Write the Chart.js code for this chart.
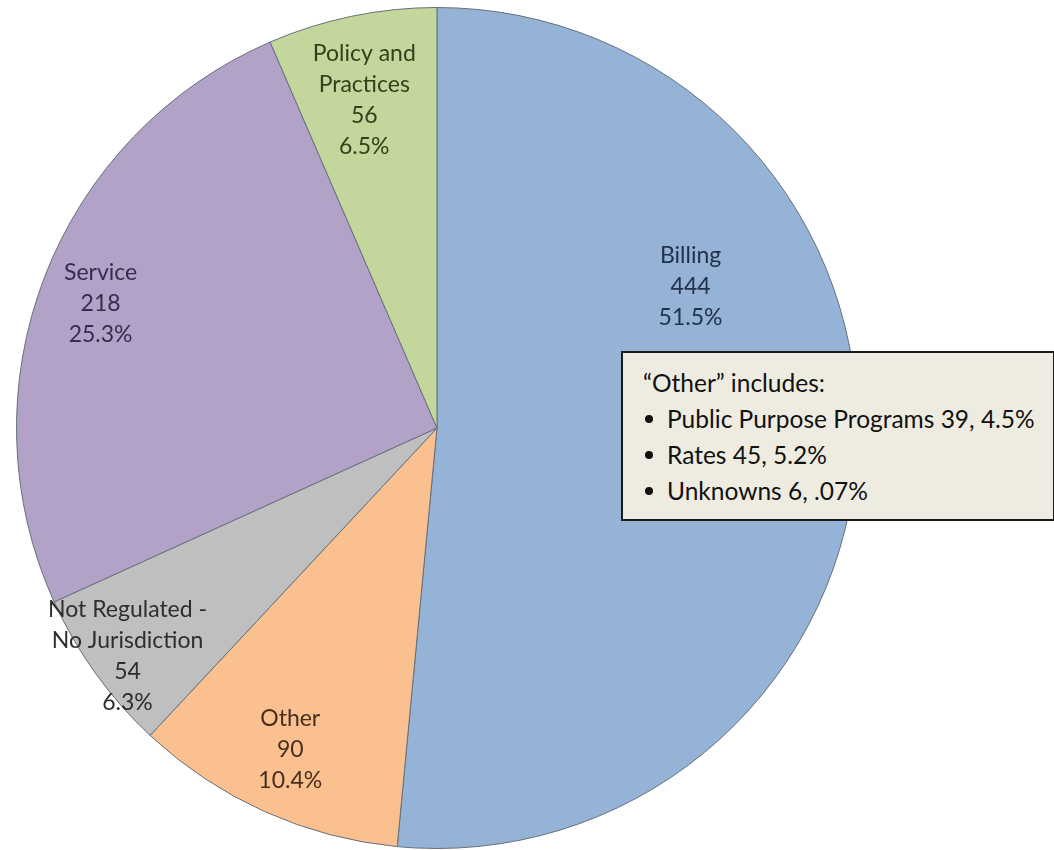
<!DOCTYPE html>
<html>
<head>
<meta charset="utf-8">
<script src="https://cdn.jsdelivr.net/npm/chart.js@4/dist/chart.umd.min.js"></script>
<style>
  html, body { margin: 0; padding: 0; background: #fff; }
  #wrap { position: relative; width: 1054px; height: 850px; overflow: hidden; }
  #note {
    position: absolute; left: 621px; top: 351px; width: 430px; height: 166px;
    background: #eeece1; border: 2px solid #1a1a1a;
    font-family: Lato, "Open Sans", sans-serif; font-size: 24.5px; color: #111;
  }
  #note p { margin: 0; position: absolute; left: 20px; top: 15px; line-height: 30px; }
  #note ul { margin: 0; padding: 0; list-style: none; position: absolute; left: 22px; top: 48px; }
  #note li { height: 36px; line-height: 36px; position: relative; padding-left: 22px; white-space: nowrap; }
  #note li::before { content: ""; position: absolute; left: 0; top: 14px; width: 8px; height: 8px; border-radius: 50%; background: #111; }
</style>
</head>
<body>
<div id="wrap">
  <canvas id="pie" width="1054" height="850"></canvas>
  <div id="note">
    <p id="noteTitle"></p>
    <ul id="noteList"></ul>
  </div>
</div>
<script>
// data
const categories = ['Billing', 'Other', 'Not Regulated - No Jurisdiction', 'Service', 'Policy and Practices'];
const nameLines = [['Billing'], ['Other'], ['Not Regulated -', 'No Jurisdiction'], ['Service'], ['Policy and', 'Practices']];
const counts = [444, 90, 54, 218, 56];
const percentLabels = ['51.5%', '10.4%', '6.3%', '25.3%', '6.5%'];
const otherTitle = '\u201COther\u201D includes:';
const otherItems = ['Public Purpose Programs 39, 4.5%', 'Rates 45, 5.2%', 'Unknowns 6, .07%'];

// styles
const sliceColors = ['#95b3d7', '#fac090', '#bfbfbf', '#b3a2c7', '#c3d69b'];
const textColors = ['#22324b', '#472f1e', '#2e2e2e', '#382b4f', '#33401c'];
// label spot relative to pie centre, in radius units (Excel labels were moved by hand)
const labelPos = [[0.603, -0.337], [-0.349, 0.765], [-0.736, 0.542], [-0.800, -0.297], [-0.173, -0.779]];

// the "Other" box
document.getElementById('noteTitle').textContent = otherTitle;
const list = document.getElementById('noteList');
otherItems.forEach(t => {
  const li = document.createElement('li');
  li.textContent = t;
  list.appendChild(li);
});

// draws name / count / percent inside each slice
const sliceLabels = {
  id: 'sliceLabels',
  afterDatasetsDraw(chart) {
    const ctx = chart.ctx;
    const arcs = chart.getDatasetMeta(0).data;
    const cx = arcs[0].x, cy = arcs[0].y, r = arcs[0].outerRadius;
    ctx.save();
    ctx.font = '23px Lato, "Open Sans", sans-serif';
    ctx.textAlign = 'center';
    ctx.textBaseline = 'middle';
    arcs.forEach((arc, i) => {
      const lines = nameLines[i].concat([String(counts[i]), percentLabels[i]]);
      const lh = 31;
      const x = cx + labelPos[i][0] * r;
      const y0 = cy + labelPos[i][1] * r - (lines.length - 1) * lh / 2;
      ctx.fillStyle = textColors[i];
      lines.forEach((l, k) => ctx.fillText(l, x, y0 + k * lh));
    });
    ctx.restore();
  }
};

new Chart(document.getElementById('pie'), {
  type: 'pie',
  data: {
    labels: categories,
    datasets: [{
      data: counts,
      backgroundColor: sliceColors,
      borderColor: '#66707a',
      borderWidth: 1
    }]
  },
  options: {
    responsive: false,
    animation: false,
    layout: { padding: { left: 16, right: 196, top: 7, bottom: 1 } },
    plugins: {
      legend: { display: false },
      tooltip: { enabled: false }
    }
  },
  plugins: [sliceLabels]
});
</script>
</body>
</html>
